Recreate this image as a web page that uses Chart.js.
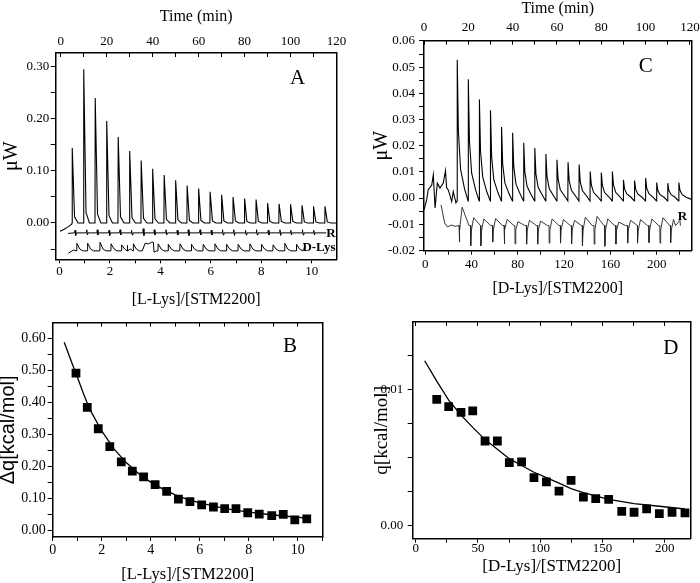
<!DOCTYPE html>
<html>
<head>
<meta charset="utf-8">
<title>ITC thermograms and binding isotherms</title>
<script src="https://cdn.jsdelivr.net/npm/chart.js@4.4.1/dist/chart.umd.min.js"></script>
<style>
html,body{margin:0;padding:0;background:#fff;}
#fig{position:relative;width:700px;height:583px;background:#fff;overflow:hidden;}
#fig canvas{position:absolute;left:0;top:0;}
.t{position:absolute;transform:translate(-50%,-50%);font-family:'Liberation Serif','Times New Roman',serif;color:#000;white-space:nowrap;line-height:1;}
.b{font-weight:bold;}
</style>
</head>
<body>
<div id="fig">
<canvas id="cA" width="700" height="583"></canvas>
<canvas id="cB" width="700" height="583"></canvas>
<canvas id="cC" width="700" height="583"></canvas>
<canvas id="cD" width="700" height="583"></canvas>
<div class="t" style="left:297.5px;top:77px;font-size:21px;">A</div>
<div class="t" style="left:290px;top:344.5px;font-size:21px;">B</div>
<div class="t" style="left:645.8px;top:65px;font-size:21px;">C</div>
<div class="t" style="left:670.8px;top:346.7px;font-size:21px;">D</div>
<div class="t b" style="left:331px;top:232px;font-size:13px;">R</div>
<div class="t b" style="left:319px;top:246px;font-size:13px;">D-Lys</div>
<div class="t b" style="left:682.5px;top:215px;font-size:13px;">R</div>
</div>
<script>
// ================= DATA =================
// ---- Panel A: L-Lys thermogram (time in min, power in uW) ----
const injTimeA = [5,10,15,20,25,30,35,40,45,50,55,60,65,70,75,80,85,90,95,100,105,110,115];
const peakA    = [0.144,0.295,0.240,0.196,0.165,0.138,0.120,0.104,0.092,0.082,0.072,0.066,0.060,0.054,0.050,0.047,0.045,0.038,0.037,0.036,0.034,0.032,0.032];
const tailA    = [0.012,0.020,0.017,0.014,0.012,0.010,0.009,0.008,0.007,0.006,0.005,0.005,0.004,0.004,0.004,0.003,0.003,0.003,0.003,0.003,0.002,0.002,0.002];
const baselineA = 0.0;
const leadInA  = [[-0.3,-0.016],[1.5,-0.012],[3,-0.008],[4.2,-0.004],[4.8,-0.002]];
const leadOutA = [[120,0.0]];

// reference (R) trace in A
const refTimeA = [6.2,11.3,15.9,21,25.8,30.8,35.9,40.7,45.8,50.7,55.5,60.6,65.5,70.4,75.3,80.4,85.2,90.3,95.4,100.1,105.2,110.1];
const refUpA   = [-0.014,-0.013,-0.013,-0.014,-0.013,-0.014,-0.011,-0.013,-0.013,-0.014,-0.013,-0.013,-0.014,-0.013,-0.013,-0.014,-0.013,-0.014,-0.013,-0.014,-0.013,-0.014];
const refDownA = [-0.024,-0.023,-0.023,-0.024,-0.023,-0.023,-0.024,-0.023,-0.023,-0.023,-0.024,-0.023,-0.023,-0.023,-0.024,-0.023,-0.023,-0.023,-0.024,-0.023,-0.023,-0.023];
const refBaseA = -0.019;
const refStartA = [[3.2,-0.020]];
const refEndA   = [[115.5,-0.019]];

// D-Lys trace in A
const dlysTimeA = [7.0,11.7,17.1,21.9,26.5,29.0,31.6,42.4,46.8,51.9,56.9,62,67.1,72.2,77.2,82.3,87.4,92.4,97.5,102.6];
const dlysPeakA = [-0.039,-0.039,-0.037,-0.040,-0.042,-0.043,-0.040,-0.040,-0.041,-0.040,-0.041,-0.041,-0.040,-0.041,-0.041,-0.040,-0.041,-0.042,-0.039,-0.041];
const dlysBaseA = -0.0535;
const dlysDecayA = -0.050;
const dlysStartA = [[3.3,-0.058],[5.5,-0.052]];
const dlysBumpA  = [[35.5,-0.0535],[36.7,-0.039],[38.2,-0.040],[39.5,-0.037],[40.3,-0.037],[40.6,-0.056],[41.8,-0.0535]];
const dlysEndA   = [[105.5,-0.051],[106.5,-0.046]];

// ---- Panel B: integrated heats, L-Lys ----
const ratioB = [0.95,1.41,1.86,2.33,2.80,3.25,3.71,4.18,4.65,5.13,5.60,6.08,6.56,7.02,7.48,7.96,8.43,8.94,9.41,9.88,10.37];
const heatB  = [0.491,0.384,0.317,0.261,0.213,0.184,0.166,0.142,0.121,0.097,0.089,0.079,0.072,0.067,0.067,0.054,0.050,0.045,0.049,0.032,0.035];
const fitRatioB = [0.47,0.75,1.0,1.25,1.5,2.0,2.5,3.0,3.5,4.0,4.5,5.0,5.5,6.0,7.0,8.0,9.0,10.0,10.4];
const fitHeatB  = [0.588,0.530,0.480,0.428,0.380,0.310,0.254,0.211,0.177,0.150,0.128,0.110,0.096,0.085,0.068,0.056,0.047,0.040,0.036];

// ---- Panel C: D-Lys thermogram ----
const injTimeC = [15,20,25,30,35,40,45,50,55,60,65,70,75,80,85,90,95,100,105,110,115];
const peakC = [0.0528,0.0454,0.0376,0.0335,0.0271,0.0249,0.0211,0.0191,0.0168,0.0146,0.0137,0.0128,0.0101,0.0097,0.0101,0.0070,0.0067,0.0076,0.0059,0.0057,0.0059];
const midC  = [0.026,0.022,0.018,0.016,0.013,0.012,0.010,0.0092,0.0082,0.0072,0.0067,0.0063,0.0050,0.0048,0.0050,0.0035,0.0034,0.0038,0.0030,0.0029,0.0030];
const tailC = [0.011,0.0095,0.008,0.007,0.0058,0.0053,0.0045,0.0041,0.0036,0.0032,0.003,0.0028,0.0022,0.0021,0.0022,0.0016,0.0015,0.0017,0.0013,0.0013,0.0013];
const lateC = [0.0035,0.003,0.0025,0.0022,0.0018,0.0017,0.0014,0.0013,0.0011,0.001,0.0009,0.0009,0.0006,0.0006,0.0006,0.0004,0.0004,0.0004,0.0003,0.0003,0.0003];
const baselineC = -0.0011;
const leadInC = [[0,-0.0045],[1.2,-0.0007],[1.9,0.0032],[3.5,0.005],[4.2,0.0089],[5.0,-0.0038],[6.0,0.0057],[7.2,0.0038],[8.7,0.0057],[9.7,0.0105],[10.2,0.004],[11,0.003],[12.5,-0.0013],[13.2,0.0025],[14.4,-0.0018]];
const leadOutC = [[120.7,-0.0005]];

// reference (R) trace in C
const refTimeC = [15.9,21.1,25.7,31,36.2,41.1,46.3,51.3,56.5,61.6,66.6,71.5,76.8,81.6,86.6,91.9,96.4,101.5,106.5,111.3];
const refDipC  = [-0.0168,-0.0182,-0.0182,-0.0168,-0.0175,-0.0175,-0.0176,-0.0176,-0.0172,-0.0172,-0.0175,-0.0182,-0.0176,-0.0184,-0.0176,-0.0172,-0.0172,-0.0170,-0.0172,-0.0170];
const refRecC  = [-0.0035,-0.0075,-0.0080,-0.0078,-0.0082,-0.0090,-0.0085,-0.0088,-0.0080,-0.0082,-0.0085,-0.0073,-0.0070,-0.0080,-0.0092,-0.0085,-0.0082,-0.0080,-0.0075,-0.0082];
const refBaseC = -0.0105;
const refLowC  = -0.0122;
const refStartC = [[7.7,-0.0026],[9.3,-0.0095],[10.5,-0.011],[12.5,-0.0103],[14,-0.0108]];
const refEndC   = [[113.5,-0.0105],[115.5,-0.0085]];

// ---- Panel D: integrated heats, D-Lys ----
const ratioD = [16.9,26.5,36.4,45.8,55.7,65.6,75.2,85.1,95.0,105.0,115.1,124.8,134.7,144.6,155.0,165.5,175.4,185.5,195.7,205.9,216.3];
const heatD  = [0.00926,0.00873,0.00831,0.00841,0.0062,0.0062,0.00461,0.00466,0.00350,0.00319,0.00252,0.00331,0.00208,0.00196,0.00191,0.00103,0.00096,0.00120,0.00086,0.00096,0.00091];
const fitRatioD = [7.2,16.9,26.5,36.4,45.8,55.7,65.6,75.2,85.1,95,105,115.1,124.8,134.7,155,175.4,195.7,216.3];
const fitHeatD  = [0.0121,0.0106,0.0092,0.0081,0.0072,0.0063,0.0056,0.0049,0.0044,0.0039,0.0035,0.0031,0.0027,0.0024,0.0019,0.0016,0.0014,0.0012];

// ================= HELPERS =================
const SERIF = "'Liberation Serif','Times New Roman',serif";
const SANS  = "'Liberation Sans',Arial,sans-serif";

function trace(parts){
  const pts = [].concat(...parts);
  pts.sort((a,b)=>a[0]-b[0]);
  return pts.map(p=>({x:p[0], y:p[1]}));
}
function pairs(xs, ys){ return xs.map((x,i)=>({x:x, y:ys[i]})); }
function mult(v,m){ const r=v/m; return Math.abs(r-Math.round(r))<1e-6; }
function fmtFixed(m,d){ return v => mult(v,m) ? (Math.abs(v)<1e-12?0:v).toFixed(d) : ''; }
function fmtInt(m){ return v => mult(v,m) ? String(Math.round(v)) : ''; }
const noLabel = () => '';

function zeroPad(s){ s.paddingLeft=0; s.paddingRight=0; s.paddingTop=0; s.paddingBottom=0; }

function axis(o){
  const horiz = (o.pos==='top'||o.pos==='bottom');
  return {
    type:'linear', position:o.pos, min:o.min, max:o.max, display:true,
    afterFit: s => { if(horiz) s.height=o.size; else s.width=o.size; zeroPad(s); },
    ticks:{ stepSize:o.step, autoSkip:false, maxRotation:0, minRotation:0, includeBounds:false,
            padding:o.pad, color:'#000', font:{family:SERIF, size:o.fs||13}, callback:o.fmt },
    grid:{ display:true, drawOnChartArea:false, drawTicks:true, tickLength:o.tl, tickColor:'#000', tickWidth:1 },
    border:{ display:true, color:'#000', width:1.5 },
    title: o.title ? { display:true, text:o.title, color:'#000',
                       font:{family:o.tfam||SERIF, size:o.tfs||16, lineHeight:o.tlh||1.2},
                       padding:{top:o.tpad||0, bottom:o.tpadb||0} } : {display:false}
  };
}
function frame(min,max){
  return { type:'linear', position:'right', min:min, max:max, display:true,
    afterFit: s => { s.width=0; zeroPad(s); },
    ticks:{display:false}, grid:{display:false}, border:{display:true,color:'#000',width:1.5} };
}
function options(g, scales){
  return { responsive:false, animation:false, devicePixelRatio:1, events:[],
    layout:{padding:{left:g.l-g.wy, right:700-g.r, top:g.t-g.ht, bottom:583-g.b-g.hx}},
    plugins:{legend:{display:false}, tooltip:{enabled:false}, title:{display:false}},
    scales:scales };
}
function lineDS(data, xid, w, col){
  return { data:data, xAxisID:xid, yAxisID:'y', showLine:true, borderColor:col||'#000', borderWidth:w||1,
           pointRadius:0, tension:0, fill:false };
}
function squaresDS(data){
  return { data:data, xAxisID:'x', yAxisID:'y', showLine:false, pointStyle:'rect', pointRadius:6.2,
           backgroundColor:'#000', borderWidth:0 };
}

// ================= PANEL A =================
const gA = {l:55.7, r:336.5, t:53, b:259.3, wy:55.7, hx:50.3, ht:53};
const mainA = trace([leadInA, injTimeA.flatMap((t,i)=>[[t-0.1,baselineA],[t,peakA[i]],[t+1,tailA[i]],[t+2.5,baselineA]]), leadOutA]);
const refA  = trace([refStartA, refTimeA.flatMap((t,i)=>[[t-0.2,refBaseA],[t,refUpA[i]],[t+0.3,refDownA[i]],[t+0.6,refBaseA]]), refEndA]);
const dlysA = trace([dlysStartA, dlysTimeA.flatMap((t,i)=>[[t-0.1,dlysBaseA],[t,dlysPeakA[i]],[t+1.3,dlysDecayA],[t+2.6,dlysBaseA]]), dlysBumpA, dlysEndA]);

new Chart(document.getElementById('cA'), {
  type:'scatter',
  data:{datasets:[ lineDS(mainA,'x2',1.1), lineDS(refA,'x2',1), lineDS(dlysA,'x2',1) ]},
  options: options(gA, {
    x:  axis({pos:'bottom', min:-0.15, max:10.98, step:1, fmt:fmtInt(2), tl:4, pad:0.6, size:gA.hx, title:'[L-Lys]/[STM2200]', tfs:16}),
    x2: axis({pos:'top', min:-2.2, max:120, step:10, fmt:fmtInt(20), tl:-4, pad:7.2, size:gA.ht, title:'Time (min)', tfs:16, tpad:7.4}),
    y:  axis({pos:'left', min:-0.0697, max:0.3263, step:0.05, fmt:fmtFixed(0.1,2), tl:5, pad:1.4, size:gA.wy, title:'\u03bcW', tfs:20}),
    y2: frame(-0.0697, 0.3263)
  })
});

// ================= PANEL B =================
const gB = {l:52.7, r:322.7, t:322.7, b:537, wy:52.7, hx:47.6, ht:12};
new Chart(document.getElementById('cB'), {
  type:'scatter',
  data:{datasets:[ lineDS(pairs(fitRatioB, fitHeatB),'x',1.3), squaresDS(pairs(ratioB, heatB)) ]},
  options: options(gB, {
    x:  axis({pos:'bottom', min:0, max:11.02, step:1, fmt:fmtInt(2), tl:4, pad:1.2, fs:14, size:gB.hx, title:'[L-Lys]/[STM2200]', tfs:16.5}),
    x2: axis({pos:'top', min:0, max:11.02, step:1, fmt:noLabel, tl:-4, pad:0, size:gB.ht}),
    y:  axis({pos:'left', min:-0.0219, max:0.649, step:0.05, fmt:fmtFixed(0.1,2), tl:5, pad:2, fs:14, size:gB.wy, title:'\u0394q[kcal/mol]', tfam:SANS, tfs:20, tlh:0.8}),
    y2: frame(-0.0219, 0.649)
  })
});

// ================= PANEL C =================
const gC = {l:424, r:691.5, t:40.7, b:250.7, wy:60, hx:47.2, ht:40.7};
const mainC = trace([leadInC, injTimeC.flatMap((t,i)=>[[t-0.1,baselineC],[t,peakC[i]],[t+0.5,midC[i]],[t+1.5,tailC[i]],[t+3.3,lateC[i]]]), leadOutC]);
const refC  = trace([refStartC, refTimeC.flatMap((t,i)=>[[t-0.1,refBaseC],[t,refDipC[i]],[t+0.3,refLowC],[t+1.3,refRecC[i]],[t+4.4,refBaseC]]), refEndC]);

new Chart(document.getElementById('cC'), {
  type:'scatter',
  data:{datasets:[ lineDS(mainC,'x2',1.1), lineDS(refC,'x2',0.9,'#222') ]},
  options: options(gC, {
    x:  axis({pos:'bottom', min:-1, max:230, step:20, fmt:fmtInt(40), tl:4, pad:2.5, size:gC.hx, title:'[D-Lys]/[STM2200]', tfs:16}),
    x2: axis({pos:'top', min:0, max:120.7, step:10, fmt:fmtInt(20), tl:-4, pad:8.9, size:gC.ht, title:'Time (min)', tfs:16, tlh:1.05}),
    y:  axis({pos:'left', min:-0.0201, max:0.0601, step:0.005, fmt:fmtFixed(0.01,2), tl:5, pad:4, size:gC.wy, title:'\u03bcW', tfs:20, tpad:6}),
    y2: frame(-0.0201, 0.0601)
  })
});

// ================= PANEL D =================
const gD = {l:412.7, r:690.7, t:322, b:538.7, wy:60, hx:37.9, ht:12};
new Chart(document.getElementById('cD'), {
  type:'scatter',
  data:{datasets:[ lineDS(pairs(fitRatioD, fitHeatD),'x',1.3), squaresDS(pairs(ratioD, heatD)) ]},
  options: options(gD, {
    x:  axis({pos:'bottom', min:-2.41, max:220.9, step:25, fmt:fmtInt(50), tl:4, pad:-2.2, size:gD.hx, title:'[D-Lys]/[STM2200]', tfs:17}),
    x2: axis({pos:'top', min:-2.41, max:220.9, step:25, fmt:noLabel, tl:-4, pad:0, size:gD.ht}),
    y:  axis({pos:'left', min:-0.000985, max:0.01495, step:0.0025, fmt:fmtFixed(0.01,2), tl:5, pad:4.4, size:gD.wy, title:'q[kcal/mol]', tfs:19, tpad:17.6}),
    y2: frame(-0.000985, 0.01495)
  })
});
</script>
</body>
</html>
